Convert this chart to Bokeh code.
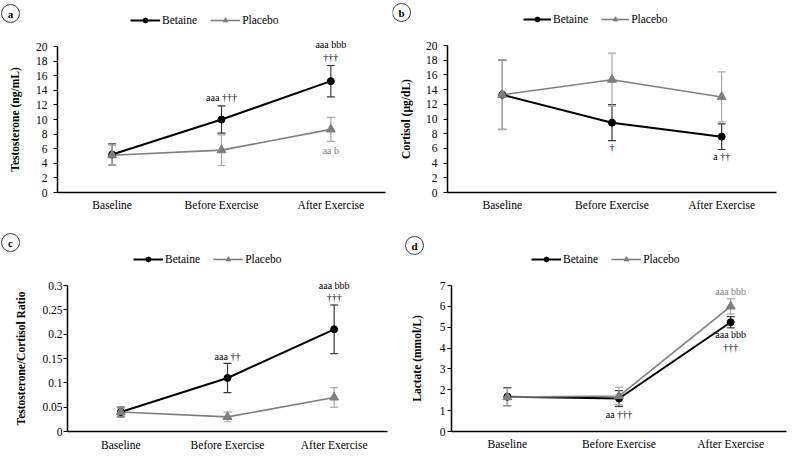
from bokeh.plotting import figure
from bokeh.models import (Range1d, FixedTicker, CustomJSTickFormatter,
                          Legend, LegendItem, Label, LabelSet, ColumnDataSource)
from bokeh.layouts import column, row
from bokeh.embed import file_html
from bokeh.resources import INLINE

# ---------------- data ----------------
phases = ["Baseline", "Before Exercise", "After Exercise"]

testo_betaine = [5.2, 10.0, 15.25]
testo_betaine_sd = [1.45, 1.87, 2.15]
testo_placebo = [5.1, 5.8, 8.65]
testo_placebo_sd = [1.4, 2.1, 1.65]
testo_ticks = [0, 2, 4, 6, 8, 10, 12, 14, 16, 18, 20]
testo_notes = ["aaa \u2020\u2020\u2020", "aaa bbb", "\u2020\u2020\u2020", "aa b"]
testo_note_phase = ["Before Exercise", "After Exercise", "After Exercise", "After Exercise"]
testo_note_y = [13.0, 20.3, 18.5, 5.75]
testo_note_group = ["Betaine", "Betaine", "Betaine", "Placebo"]

cort_betaine = [13.3, 9.5, 7.6]
cort_betaine_sd = [4.7, 2.45, 1.75]
cort_placebo = [13.3, 15.35, 13.0]
cort_placebo_sd = [4.75, 3.6, 3.4]
cort_ticks = [0, 2, 4, 6, 8, 10, 12, 14, 16, 18, 20]
cort_notes = ["\u2020", "a \u2020\u2020"]
cort_note_phase = ["Before Exercise", "After Exercise"]
cort_note_y = [6.1, 4.9]
cort_note_group = ["Betaine", "Betaine"]

ratio_betaine = [0.04, 0.11, 0.21]
ratio_betaine_sd = [0.01, 0.03, 0.05]
ratio_placebo = [0.04, 0.03, 0.07]
ratio_placebo_sd = [0.008, 0.01, 0.02]
ratio_ticks = [0, 0.05, 0.1, 0.15, 0.2, 0.25, 0.3]
ratio_notes = ["aaa \u2020\u2020", "aaa bbb", "\u2020\u2020\u2020"]
ratio_note_phase = ["Before Exercise", "After Exercise", "After Exercise"]
ratio_note_y = [0.155, 0.301, 0.276]
ratio_note_group = ["Betaine", "Betaine", "Betaine"]

lact_betaine = [1.67, 1.58, 5.24]
lact_betaine_sd = [0.43, 0.38, 0.27]
lact_placebo = [1.65, 1.7, 6.0]
lact_placebo_sd = [0.42, 0.42, 0.37]
lact_ticks = [0, 1, 2, 3, 4, 5, 6, 7]
lact_notes = ["aa \u2020\u2020\u2020", "aaa bbb", "aaa bbb", "\u2020\u2020\u2020"]
lact_note_phase = ["Before Exercise", "After Exercise", "After Exercise", "After Exercise"]
lact_note_y = [0.8, 6.73, 4.63, 4.01]
lact_note_group = ["Betaine", "Placebo", "Betaine", "Betaine"]

# ---------------- style ----------------
SERIF = "Liberation Serif"
BET_COLOR = "#000000"
BET_ERR = "#3a3a3a"
PLA_COLOR = "#7f7f7f"
PLA_ERR = "#a8a8a8"
NOTE_COLORS = {"Betaine": "#000000", "Placebo": "#808080"}
FS = "11.5px"


def make_panel(letter, ylabel, bet, bet_sd, pla, pla_sd, ticks,
               notes, note_phase, note_y, note_group, g):
    w, h = g["w"], g["h"]
    ax0, ax1, ytop, ybot = g["ax0"], g["ax1"], g["ytop"], g["ybot"]
    n = len(phases)
    ppx = (ax1 - ax0) / n
    ppy = (ybot - ytop) / (ticks[-1] - ticks[0])
    xr = Range1d(-ax0 / ppx, n + (w - ax1) / ppx)
    yr = Range1d(ticks[0] - (h - ybot) / ppy, ticks[-1] + ytop / ppy)
    p = figure(width=w, height=h, output_backend="svg", toolbar_location=None,
               x_range=xr, y_range=yr,
               min_border_left=0, min_border_right=0,
               min_border_top=0, min_border_bottom=0)
    p.outline_line_color = None
    p.grid.visible = False
    p.background_fill_color = "white"
    p.border_fill_color = "white"

    xs = [i + 0.5 for i in range(n)]

    # axes
    p.xaxis.ticker = FixedTicker(ticks=xs)
    p.xaxis.formatter = CustomJSTickFormatter(args=dict(labels=phases),
                                              code="return labels[Math.floor(tick)]")
    p.xaxis.bounds = (0, n)
    p.xaxis.fixed_location = ticks[0]
    p.yaxis.ticker = FixedTicker(ticks=ticks)
    p.yaxis.formatter = CustomJSTickFormatter(code="return String(Math.round(tick*1000)/1000)")
    p.yaxis.bounds = (ticks[0], ticks[-1])
    p.yaxis.fixed_location = 0
    for ax in (p.xaxis[0], p.yaxis[0]):
        ax.axis_line_color = "black"
        ax.axis_line_width = 1.5
        ax.major_tick_line_color = "black"
        ax.major_tick_in = 0
        ax.minor_tick_in = 0
        ax.minor_tick_out = 0
        ax.major_label_text_font = SERIF
        ax.major_label_text_font_size = FS
        ax.major_label_text_color = "black"
    p.yaxis.major_tick_out = 4
    p.yaxis.major_label_standoff = g["ystand"]
    p.xaxis.major_tick_out = 0
    p.xaxis.major_label_standoff = g["xstand"]
    p.yaxis.axis_label = ylabel
    p.yaxis.axis_label_text_font = SERIF
    p.yaxis.axis_label_text_font_style = "bold"
    p.yaxis.axis_label_text_font_size = FS
    p.yaxis.axis_label_text_color = "black"
    p.yaxis.axis_label_standoff = g["lstand"]

    sb = ColumnDataSource(dict(x=xs, y=bet,
                               lo=[v - s for v, s in zip(bet, bet_sd)],
                               hi=[v + s for v, s in zip(bet, bet_sd)]))
    sp = ColumnDataSource(dict(x=xs, y=pla,
                               lo=[v - s for v, s in zip(pla, pla_sd)],
                               hi=[v + s for v, s in zip(pla, pla_sd)]))

    # error bars
    for src, col in ((sb, BET_ERR), (sp, PLA_ERR)):
        p.segment(x0="x", y0="lo", x1="x", y1="hi", source=src,
                  line_color=col, line_width=1.2)
        p.scatter(x="x", y="lo", source=src, marker="dash", size=8,
                  line_color=col, line_width=1.2)
        p.scatter(x="x", y="hi", source=src, marker="dash", size=8,
                  line_color=col, line_width=1.2)

    rbl = p.line(x="x", y="y", source=sb, line_color=BET_COLOR, line_width=2)
    rpl = p.line(x="x", y="y", source=sp, line_color=PLA_COLOR, line_width=1.6)
    rbm = p.scatter(x="x", y="y", source=sb, marker="circle", size=7,
                    fill_color=BET_COLOR, line_color=BET_COLOR)
    rpm = p.scatter(x="x", y="y", source=sp, marker="triangle", size=9,
                    fill_color=PLA_COLOR, line_color=PLA_COLOR)

    # significance annotations
    ns = ColumnDataSource(dict(x=[phases.index(ph) + 0.5 for ph in note_phase],
                               y=note_y, text=notes,
                               color=[NOTE_COLORS[gr] for gr in note_group]))
    p.add_layout(LabelSet(x="x", y="y", text="text", source=ns,
                          text_color="color", text_font=SERIF, text_font_size="10px",
                          text_align="center", text_baseline="middle"))

    legend = Legend(items=[LegendItem(label="Betaine", renderers=[rbl, rbm]),
                           LegendItem(label="Placebo", renderers=[rpl, rpm])],
                    orientation="horizontal",
                    location=(g["leg_x"], h - g["leg_y"] - 6),
                    padding=0, margin=0, spacing=13, glyph_width=g["gw"],
                    glyph_height=12, label_height=12, label_standoff=2,
                    label_text_font=SERIF, label_text_font_size=FS,
                    label_text_color="black",
                    border_line_alpha=0, background_fill_alpha=0)
    p.add_layout(legend, "center")

    # circled panel letter (position given in pixels, converted to the plot's coords)
    lx = (g["let_x"] - ax0) / ppx
    ly = ticks[0] + (ybot - g["let_y"]) / ppy
    p.scatter(x=[lx], y=[ly], marker="circle", size=18, fill_color="white",
              line_color="#3c3c3c", line_width=1)
    p.add_layout(Label(x=lx, y=ly, text=letter, text_font=SERIF,
                       text_font_style="bold", text_font_size="11px",
                       text_align="center", text_baseline="middle",
                       text_color="black"))
    return p


geo_a = dict(w=392, h=230, ax0=57, ax1=385, ytop=46, ybot=192, ystand=6, xstand=6,
             lstand=12, leg_x=130, leg_y=20, gw=30, let_x=10, let_y=13)
geo_b = dict(w=408, h=230, ax0=55, ax1=384, ytop=45, ybot=192, ystand=6, xstand=6,
             lstand=11, leg_x=131, leg_y=19, gw=28, let_x=9, let_y=12)
geo_c = dict(w=400, h=230, ax0=67, ax1=387, ytop=55, ybot=201, ystand=1, xstand=7,
             lstand=12, leg_x=133, leg_y=29, gw=30, let_x=10, let_y=12)
geo_d = dict(w=400, h=230, ax0=51, ax1=386, ytop=55, ybot=201, ystand=2, xstand=6,
             lstand=14, leg_x=131, leg_y=29, gw=30, let_x=14, let_y=15)

pa = make_panel("a", "Testosterone (ng/mL)", testo_betaine, testo_betaine_sd,
                testo_placebo, testo_placebo_sd, testo_ticks,
                testo_notes, testo_note_phase, testo_note_y, testo_note_group, geo_a)
pb = make_panel("b", "Cortisol (\u00b5g/dL)", cort_betaine, cort_betaine_sd,
                cort_placebo, cort_placebo_sd, cort_ticks,
                cort_notes, cort_note_phase, cort_note_y, cort_note_group, geo_b)
pc = make_panel("c", "Testosterone/Cortisol Ratio", ratio_betaine, ratio_betaine_sd,
                ratio_placebo, ratio_placebo_sd, ratio_ticks,
                ratio_notes, ratio_note_phase, ratio_note_y, ratio_note_group, geo_c)
pd_ = make_panel("d", "Lactate (mmol/L)", lact_betaine, lact_betaine_sd,
                 lact_placebo, lact_placebo_sd, lact_ticks,
                 lact_notes, lact_note_phase, lact_note_y, lact_note_group, geo_d)

layout = column(row(pa, pb), row(pc, pd_))
open("out.html", "w").write(file_html(layout, INLINE))
